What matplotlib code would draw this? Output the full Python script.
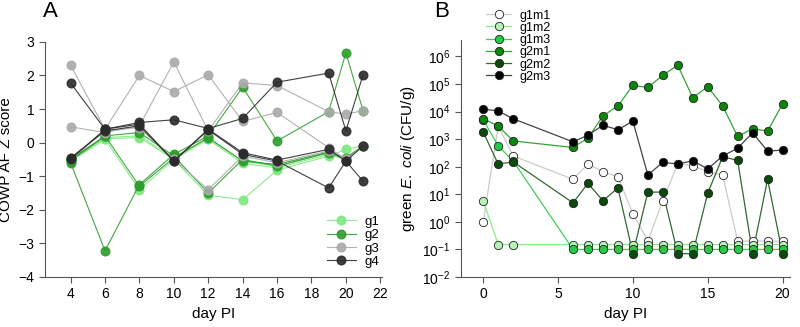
import numpy as np
import matplotlib
matplotlib.use('Agg')
import matplotlib.pyplot as plt
from matplotlib.ticker import FixedLocator, NullLocator

plt.rcParams['font.family'] = ['Liberation Sans', 'DejaVu Sans']
plt.rcParams['mathtext.fontset'] = 'custom'
plt.rcParams['mathtext.rm'] = 'Liberation Sans'
plt.rcParams['mathtext.it'] = 'Liberation Sans:italic'

# Panel A: COWP AF Z score per mouse, grouped
days_a = [4, 6, 8, 10, 12, 14, 16, 19, 20, 21]

g1 = [[-0.55, 0.10, -1.40, -0.50, -1.57, -1.70, -0.82, -0.40, -0.20, -0.10],
      [-0.50, 0.12, 0.15, -0.50, 0.10, -0.62, -0.75, -0.35, -0.50, -0.10],
      [-0.45, 0.15, 0.20, -0.45, 0.12, -0.55, -0.70, -0.30, -0.45, -0.10]]
g2 = [[-0.60, -3.22, -1.25, -0.35, 0.20, 1.65, 0.05, 0.92, 2.67, 0.95],
      [-0.55, 0.20, 0.30, -0.40, -1.50, -0.50, -0.70, -0.30, -0.50, -0.10],
      [-0.50, 0.20, -1.30, -0.45, 0.15, -0.55, -0.65, -0.28, -0.45, -0.10]]
g3 = [[2.30, 0.40, 2.00, 1.52, 2.02, 0.63, 0.90, -0.15, -0.50, -0.10],
      [0.47, 0.30, 0.50, 2.40, 0.35, 1.78, 1.70, 0.92, 0.85, 0.95],
      [-0.50, 0.35, 0.45, -0.50, -1.40, -0.40, -0.60, -0.25, -0.50, -0.10]]
g4 = [[1.77, 0.40, 0.60, 0.68, 0.42, 0.72, 1.80, 2.07, 0.35, 2.02],
      [-0.50, 0.40, 0.55, -0.55, 0.40, -0.30, -0.52, -0.20, -0.55, -0.10],
      [-0.45, 0.35, 0.50, -0.55, 0.38, -0.35, -0.55, -1.35, -0.55, -1.15]]

groups_a = ['g1', 'g2', 'g3', 'g4']
colors_a = ['#7fe87f', '#2e9e2e', '#aaaaaa', '#2b2b2b']

# Panel B: green E. coli counts per mouse
days_b = [0, 1, 2, 6, 7, 8, 9, 10, 11, 12, 13, 14, 15, 16, 17, 18, 19, 20]
g1m1 = [1.0, 3000, 245, 35, 125, 66, 43, 2.0, 0.2, 5.8, 130, 110, 66, 50, 0.2, 0.2, 0.2, 0.2]
g1m2 = [5.8, 0.15, 0.15, 0.15, 0.15, 0.15, 0.15, 0.15, 0.15, 0.15, 0.15, 0.15, 0.15, 0.15, 0.15, 0.15, 0.15, 0.15]
g1m3 = [5000, 570, 160, 0.1, 0.1, 0.1, 0.1, 0.1, 0.1, 0.1, 0.1, 0.1, 0.1, 0.1, 0.1, 0.1, 0.1, 0.1]
g2m1 = [5500, 3000, 860, 500, 1100, 7000, 16000, 90000, 75000, 210000, 480000, 32000, 80000, 16000, 1250, 2400, 1950, 19000]
g2m2 = [1800, 125, 150, 4.9, 25, 5.8, 17, 0.07, 12, 12, 0.07, 0.07, 11, 230, 170, 0.07, 35, 0.07]
g2m3 = [12500, 10500, 5500, 800, 1400, 3200, 2200, 4500, 50, 145, 125, 165, 83, 245, 470, 1700, 370, 400]

mice_b = ['g1m1', 'g1m2', 'g1m3', 'g2m1', 'g2m2', 'g2m3']
series_b = [g1m1, g1m2, g1m3, g2m1, g2m2, g2m3]
faces_b = ['white', '#b9f2b9', '#22cc44', '#0a860a', '#0b4a0b', 'black']
lines_b = ['#cccccc', '#88ee88', '#44cc55', '#33a533', '#2f6a2f', '#444444']

fig = plt.figure(figsize=(8, 3.27), dpi=100)
axA = fig.add_axes([0.056, 0.153, 0.4215, 0.719])
axB = fig.add_axes([0.576, 0.153, 0.4115, 0.725])

for name, data, col in zip(groups_a, [g1, g2, g3, g4], colors_a):
    for i, ys in enumerate(data):
        axA.plot(days_a, ys, '-o', color=col, lw=0.8, ms=6.2, mec=col,
                 alpha=0.9, label=name if i == 0 else None)

axA.set_xlim(2.5, 22.1)
axA.set_ylim(-4, 3)
axA.set_xticks(np.arange(4, 23, 2))
axA.set_yticks(np.arange(-4, 4, 1))
axA.set_xlabel('day PI', fontsize=11)
axA.set_ylabel('COWP AF Z score', fontsize=11, labelpad=4)
axA.legend(loc='upper left', bbox_to_anchor=(0.4, 0.36), bbox_transform=fig.transFigure,
           frameon=False, fontsize=9.5, handlelength=2.2, handletextpad=0.7,
           labelspacing=0.08, borderpad=0)

for name, ys, fc, lc in zip(mice_b, series_b, faces_b, lines_b):
    axB.plot(days_b, ys, '-', color=lc, lw=0.9, zorder=2)
    axB.plot(days_b, ys, 'o', mfc=fc, mec='#222222', mew=0.6, ms=6, zorder=3)

handles = []
for fc, lc in zip(faces_b, lines_b):
    h, = axB.plot([], [], '-o', color=lc, lw=0.9, mfc=fc, mec='#222222', mew=0.6, ms=6)
    handles.append(h)

axB.set_yscale('log')
axB.set_ylim(1e-2, 4e6)
axB.set_xlim(-1.5, 20.5)
axB.yaxis.set_major_locator(FixedLocator([10.0 ** k for k in range(-2, 7)]))
axB.yaxis.set_minor_locator(NullLocator())
axB.set_yticklabels([r'$10^{%d}$' % k for k in range(-2, 7)])
axB.set_xticks([0, 5, 10, 15, 20])
axB.set_xlabel('day PI', fontsize=11)
axB.set_ylabel(r'green $\mathit{E.\ coli}$ (CFU/g)', fontsize=11, labelpad=4)
axB.legend(handles, mice_b, loc='upper left', bbox_to_anchor=(0.6, 0.99),
           bbox_transform=fig.transFigure, frameon=False, fontsize=9,
           handlelength=2.0, handletextpad=0.65, labelspacing=0.02, borderpad=0)

for ax in (axA, axB):
    ax.spines['top'].set_visible(False)
    ax.spines['right'].set_visible(False)
    ax.spines['left'].set_color('#555555')
    ax.spines['bottom'].set_color('#555555')
    ax.tick_params(direction='out', length=4, width=0.8, color='#555555', labelsize=10)

fig.text(0.054, 0.965, 'A', fontsize=16, va='center')
fig.text(0.543, 0.965, 'B', fontsize=16, va='center')

fig.savefig('out.png', dpi=100)
